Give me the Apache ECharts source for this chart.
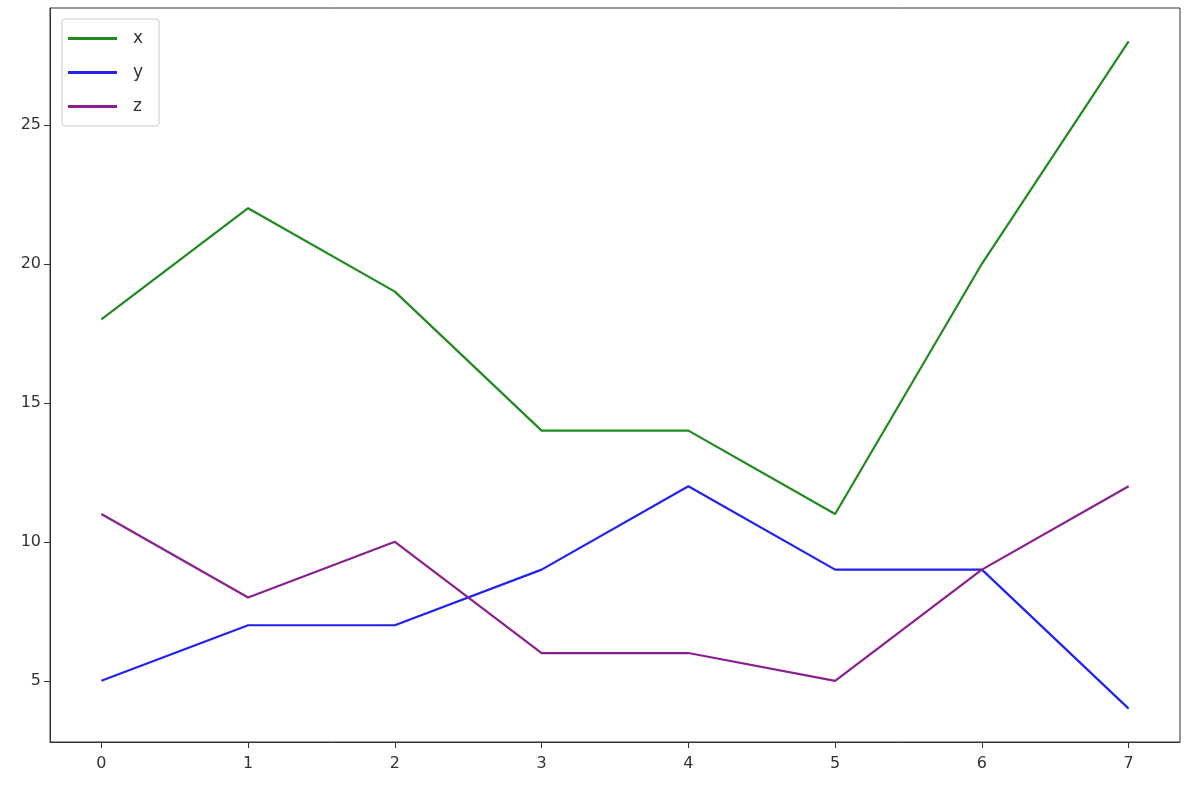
<!DOCTYPE html>
<html>
<head>
<meta charset="utf-8">
<script src="https://cdn.jsdelivr.net/npm/echarts@6/dist/echarts.min.js"></script>
<style>
  html, body { margin: 0; padding: 0; background: #fff; }
  #chart { width: 1198px; height: 796px; }
</style>
</head>
<body>
<div id="chart"></div>
<script>
// data
const xIdx = [0, 1, 2, 3, 4, 5, 6, 7];
const xVals = [18, 22, 19, 14, 14, 11, 20, 28];
const yVals = [5, 7, 7, 9, 12, 9, 9, 4];
const zVals = [11, 8, 10, 6, 6, 5, 9, 12];
const yTicks = [5, 10, 15, 20, 25];

const chart = echarts.init(document.getElementById('chart'));

function pairs(vals) {
  return xIdx.map((i, k) => [i, vals[k]]);
}

const axisText = { color: '#333', fontSize: 16, fontFamily: 'DejaVu Sans' };

const option = {
  backgroundColor: '#fff',
  animation: false,
  grid: {
    left: 50, right: 18, top: 8, bottom: 54,
    show: true, borderColor: '#333', borderWidth: 1
  },
  legend: {
    orient: 'vertical',
    left: 62, top: 19,
    padding: [11, 16, 11, 6],
    backgroundColor: '#fff',
    borderColor: '#ccc',
    borderWidth: 1,
    borderRadius: 3,
    icon: 'rect',
    itemWidth: 49,
    itemHeight: 3,
    itemGap: 17,
    textStyle: { color: '#333', fontSize: 17, fontFamily: 'DejaVu Sans', padding: [0, 0, 0, 11] },
    data: ['x', 'y', 'z']
  },
  xAxis: {
    type: 'value',
    min: -0.35, max: 7.35,
    splitLine: { show: false },
    axisLine: { onZero: false, lineStyle: { color: '#333' } },
    axisTick: { customValues: xIdx, length: 6, lineStyle: { color: '#333' } },
    axisLabel: { customValues: xIdx, margin: 14, ...axisText }
  },
  yAxis: {
    type: 'value',
    min: 2.8, max: 29.2,
    splitLine: { show: false },
    axisLine: { show: true, onZero: false, lineStyle: { color: '#333' } },
    axisTick: { show: true, customValues: yTicks, length: 6, lineStyle: { color: '#333' } },
    axisLabel: { customValues: yTicks, margin: 9, ...axisText }
  },
  series: [
    { name: 'x', type: 'line', data: pairs(xVals), symbol: 'none', color: '#1f8a1f', lineStyle: { width: 2.2 } },
    { name: 'y', type: 'line', data: pairs(yVals), symbol: 'none', color: '#2222ee', lineStyle: { width: 2.2 } },
    { name: 'z', type: 'line', data: pairs(zVals), symbol: 'none', color: '#8a1f8e', lineStyle: { width: 2.2 } }
  ]
};

chart.setOption(option);
</script>
</body>
</html>
